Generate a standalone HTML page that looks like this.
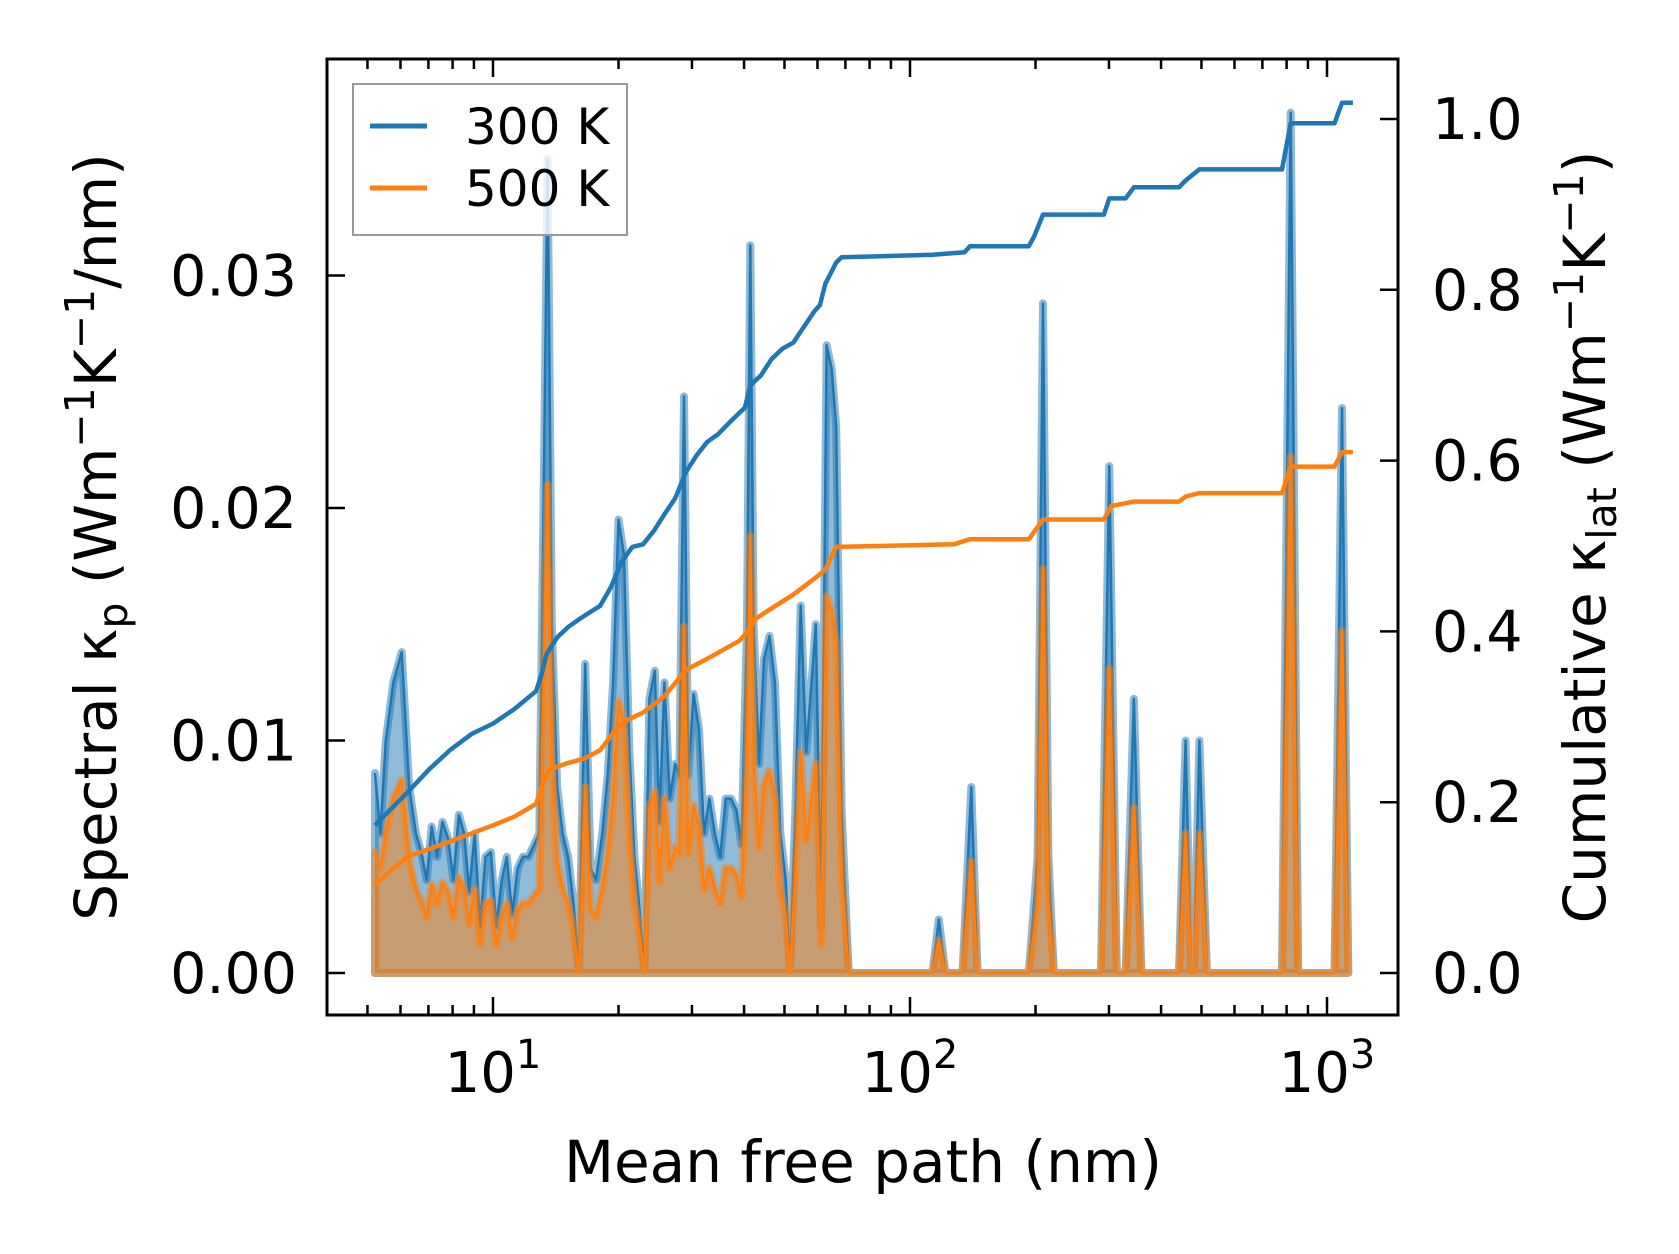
<!DOCTYPE html>
<html><head><meta charset="utf-8"><style>
html,body{margin:0;padding:0;background:#fff;}
svg{display:block;font-family:"DejaVu Sans","Liberation Sans",sans-serif;}
</style></head><body>
<svg id="chart" width="1679" height="1254" viewBox="0 0 1679 1254" xmlns="http://www.w3.org/2000/svg">
<g id="plot"></g>
<g id="axes"></g>
</svg>
<script>
// log10 of mean free path (nm) sample grid
const mfpLog10 = [0.717,0.730,0.743,0.761,0.781,0.799,0.815,0.828,0.841,0.853,0.866,0.879,0.892,0.905,0.918,0.931,0.943,0.956,0.969,0.982,0.995,1.008,1.021,1.033,1.046,1.059,1.072,1.085,1.098,1.111,1.121,1.131,1.141,1.154,1.167,1.180,1.193,1.206,1.221,1.234,1.247,1.262,1.275,1.288,1.301,1.314,1.327,1.339,1.350,1.363,1.375,1.388,1.399,1.411,1.424,1.437,1.447,1.458,1.468,1.481,1.494,1.506,1.519,1.532,1.545,1.558,1.571,1.584,1.596,1.609,1.617,1.625,1.638,1.650,1.663,1.676,1.689,1.702,1.712,1.725,1.738,1.751,1.764,1.774,1.787,1.800,1.812,1.823,1.836,1.853,2.054,2.069,2.085,2.126,2.147,2.162,2.285,2.306,2.319,2.332,2.345,2.458,2.478,2.496,2.517,2.537,2.555,2.645,2.661,2.674,2.681,2.694,2.712,2.892,2.913,2.931,3.018,3.036,3.051];
const spectral300 = [0.0086,0.0060,0.0100,0.0125,0.0138,0.0080,0.0060,0.0052,0.0040,0.0063,0.0050,0.0065,0.0058,0.0040,0.0068,0.0060,0.0035,0.0060,0.0020,0.0050,0.0052,0.0020,0.0040,0.0050,0.0025,0.0045,0.0050,0.0050,0.0055,0.0060,0.0200,0.0350,0.0150,0.0080,0.0060,0.0050,0.0030,0.0000,0.0133,0.0045,0.0040,0.0060,0.0085,0.0125,0.0195,0.0180,0.0095,0.0050,0.0030,0.0000,0.0118,0.0130,0.0065,0.0125,0.0075,0.0090,0.0085,0.0248,0.0085,0.0120,0.0105,0.0060,0.0075,0.0060,0.0050,0.0075,0.0075,0.0070,0.0055,0.0150,0.0313,0.0150,0.0090,0.0135,0.0145,0.0125,0.0060,0.0040,0.0000,0.0070,0.0158,0.0095,0.0125,0.0150,0.0020,0.0270,0.0260,0.0235,0.0070,0,0,0.0023,0,0,0.0080,0,0,0.0050,0.0288,0.0050,0,0,0.0218,0,0,0.0118,0,0,0.0100,0,0,0.0100,0,0,0.0370,0,0,0.0243,0];
const spectral500 = [0.0052,0.0045,0.0060,0.0075,0.0083,0.0048,0.0036,0.0031,0.0024,0.0038,0.0030,0.0039,0.0035,0.0024,0.0041,0.0036,0.0021,0.0036,0.0012,0.0030,0.0031,0.0012,0.0024,0.0030,0.0015,0.0027,0.0030,0.0030,0.0033,0.0036,0.0120,0.0210,0.0090,0.0048,0.0036,0.0030,0.0018,0.0000,0.0080,0.0027,0.0024,0.0036,0.0051,0.0075,0.0117,0.0108,0.0057,0.0030,0.0018,0.0000,0.0071,0.0078,0.0039,0.0075,0.0045,0.0054,0.0051,0.0149,0.0051,0.0072,0.0063,0.0036,0.0045,0.0036,0.0030,0.0045,0.0045,0.0042,0.0033,0.0090,0.0188,0.0090,0.0054,0.0081,0.0087,0.0075,0.0036,0.0024,0.0000,0.0042,0.0095,0.0057,0.0075,0.0090,0.0012,0.0162,0.0156,0.0141,0.0042,0,0,0.0014,0,0,0.0048,0,0,0.0030,0.0174,0.0030,0,0,0.0131,0,0,0.0071,0,0,0.0060,0,0,0.0060,0,0,0.0222,0,0,0.0147,0];
const cumLog10_300 = [0.717,0.743,0.794,0.846,0.897,0.949,1.0,1.051,1.103,1.116,1.129,1.154,1.180,1.206,1.231,1.257,1.283,1.308,1.334,1.360,1.386,1.411,1.437,1.463,1.488,1.514,1.540,1.566,1.591,1.604,1.617,1.643,1.668,1.694,1.720,1.746,1.771,1.784,1.797,1.823,1.836,2.054,2.131,2.144,2.285,2.298,2.319,2.465,2.478,2.517,2.537,2.645,2.661,2.694,2.892,2.913,3.018,3.036,3.062];
const cum300 = [0.173,0.186,0.211,0.238,0.261,0.280,0.292,0.309,0.330,0.349,0.374,0.393,0.405,0.414,0.422,0.430,0.452,0.481,0.499,0.502,0.518,0.537,0.556,0.587,0.606,0.622,0.631,0.644,0.656,0.662,0.688,0.700,0.719,0.731,0.738,0.757,0.775,0.782,0.807,0.832,0.838,0.841,0.844,0.851,0.851,0.863,0.888,0.888,0.907,0.907,0.920,0.920,0.928,0.941,0.941,0.995,0.995,1.019,1.019];
const cumLog10_500 = [0.717,0.794,0.897,1.0,1.051,1.103,1.116,1.134,1.180,1.219,1.257,1.296,1.321,1.360,1.411,1.463,1.514,1.591,1.609,1.630,1.668,1.720,1.771,1.797,1.823,2.105,2.144,2.285,2.319,2.465,2.483,2.537,2.645,2.661,2.694,2.892,2.913,3.018,3.036,3.062];
const cum500 = [0.104,0.136,0.154,0.173,0.183,0.198,0.217,0.238,0.246,0.251,0.261,0.286,0.296,0.305,0.324,0.355,0.368,0.389,0.399,0.415,0.427,0.443,0.462,0.472,0.499,0.502,0.508,0.508,0.531,0.531,0.547,0.552,0.552,0.558,0.562,0.562,0.593,0.593,0.610,0.610];
const leftTicks = [0, 0.01, 0.02, 0.03];
const leftTickLabels = ["0.00","0.01","0.02","0.03"];
const rightTicks = [0, 0.2, 0.4, 0.6, 0.8, 1.0];
const rightTickLabels = ["0.0","0.2","0.4","0.6","0.8","1.0"];
const xMajorExp = [1, 2, 3];

const L=327, R=1398, T=59, B=1015;
const X = lx => 493 + (lx - 1) * 417;
const YL = v => 973 - v * 23250;
const YR = c => 973 - c * 854;
const NS = "http://www.w3.org/2000/svg";
const plot = document.getElementById('plot');
const axes = document.getElementById('axes');
function mk(tag, attrs, parent){const e=document.createElementNS(NS,tag);for(const k in attrs)e.setAttribute(k,attrs[k]);parent.appendChild(e);return e;}

function spectral(vals, fill, stroke, name){
  let d = `M${X(mfpLog10[0])},${YL(0)}`;
  mfpLog10.forEach((lx,i)=>{ d += ` L${X(lx).toFixed(1)},${YL(vals[i]).toFixed(1)}`; });
  d += ` L${X(mfpLog10[mfpLog10.length-1])},${YL(0)} Z`;
  const f = mk('path',{d:d,fill:fill,'fill-opacity':0.5,stroke:stroke,'stroke-opacity':0.5,'stroke-width':8,'stroke-linejoin':'round'},plot);
  
  
  let d2='';
  mfpLog10.forEach((lx,i)=>{ d2 += (i?' L':'M')+X(lx).toFixed(1)+','+YL(vals[i]).toFixed(1); });
  const l = mk('path',{d:d2,fill:'none',stroke:stroke,'stroke-width':2.5,'stroke-linejoin':'round'},plot);
  
  
}
spectral(spectral300,'#1f77b4','#1f77b4','spectral-300k');
spectral(spectral500,'#ff7f0e','#ff7f0e','spectral-500k');

function cum(xs, vs, color, name){
  let d='';
  xs.forEach((lx,i)=>{ d += (i?' L':'M')+X(lx).toFixed(1)+','+YR(vs[i]).toFixed(1); });
  const p = mk('path',{d:d,fill:'none',stroke:color,'stroke-width':4.5,'stroke-linejoin':'round'},plot);
  
  
}
cum(cumLog10_300, cum300, '#1f77b4', 'cumulative-300k');
cum(cumLog10_500, cum500, '#ff7f0e', 'cumulative-500k');

const fr = mk('rect',{x:L,y:T,width:R-L,height:B-T,fill:'none',stroke:'#000','stroke-width':3},axes);



for(let e=0;e<=3;e++){
  for(let m=1;m<10;m++){
    const lx = e + Math.log10(m);
    const x = X(lx);
    if(x<L+2||x>R-2) continue;
    const len = m===1?18:10;
    mk('line',{x1:x,y1:B,x2:x,y2:B-len,stroke:'#000','stroke-width':2.5},axes);
    mk('line',{x1:x,y1:T,x2:x,y2:T+len,stroke:'#000','stroke-width':2.5},axes);
  }
}
xMajorExp.forEach(e=>{
  const t = mk('text',{x:X(e),y:1092,'text-anchor':'middle','font-size':56,fill:'#000'},axes);
  
  
  t.textContent='10';
  const s = mk('tspan',{dy:-24,'font-size':40},t); s.textContent=String(e);
});
leftTicks.forEach((v,i)=>{
  const y=YL(v);
  mk('line',{x1:L,y1:y,x2:L+18,y2:y,stroke:'#000','stroke-width':2.5},axes);
  const t = mk('text',{x:297,y:y+20,'text-anchor':'end','font-size':57,fill:'#000'},axes);
  
  
  t.textContent=leftTickLabels[i];
});
rightTicks.forEach((v,i)=>{
  const y=YR(v);
  mk('line',{x1:R,y1:y,x2:R-18,y2:y,stroke:'#000','stroke-width':2.5},axes);
  const t = mk('text',{x:1432,y:y+20,'text-anchor':'start','font-size':57,fill:'#000'},axes);
  
  
  t.textContent=rightTickLabels[i];
});
</script>
<svg style="position:absolute;left:0;top:0" width="1679" height="1254" xmlns="http://www.w3.org/2000/svg" font-family="DejaVu Sans, Liberation Sans, sans-serif">
  <text x="863" y="1182" text-anchor="middle" font-size="58">Mean free path (nm)</text>
  <text transform="translate(116,537) rotate(-90)" text-anchor="middle" font-size="58">Spectral κ<tspan font-size="41" dy="11">p</tspan><tspan dy="-11"> (Wm</tspan><tspan font-size="41" dy="-22">−1</tspan><tspan dy="22">K</tspan><tspan font-size="41" dy="-22">−1</tspan><tspan dy="22">/nm)</tspan></text>
  <text transform="translate(1605,537) rotate(-90)" text-anchor="middle" font-size="58">Cumulative κ<tspan font-size="41" dy="11">lat</tspan><tspan dy="-11"> (Wm</tspan><tspan font-size="41" dy="-22">−1</tspan><tspan dy="22">K</tspan><tspan font-size="41" dy="-22">−1</tspan><tspan dy="22">)</tspan></text>
  <g>
    <rect x="353" y="84" width="274" height="151" fill="#fff" fill-opacity="0.8" stroke="#999" stroke-width="2"/>
    <line x1="370" y1="126" x2="427" y2="126" stroke="#1f77b4" stroke-width="5"/>
    <text x="465" y="144" font-size="50">300 K</text>
    <line x1="370" y1="188" x2="427" y2="188" stroke="#ff7f0e" stroke-width="5"/>
    <text x="465" y="206" font-size="50">500 K</text>
  </g>
</svg>
</body></html>
